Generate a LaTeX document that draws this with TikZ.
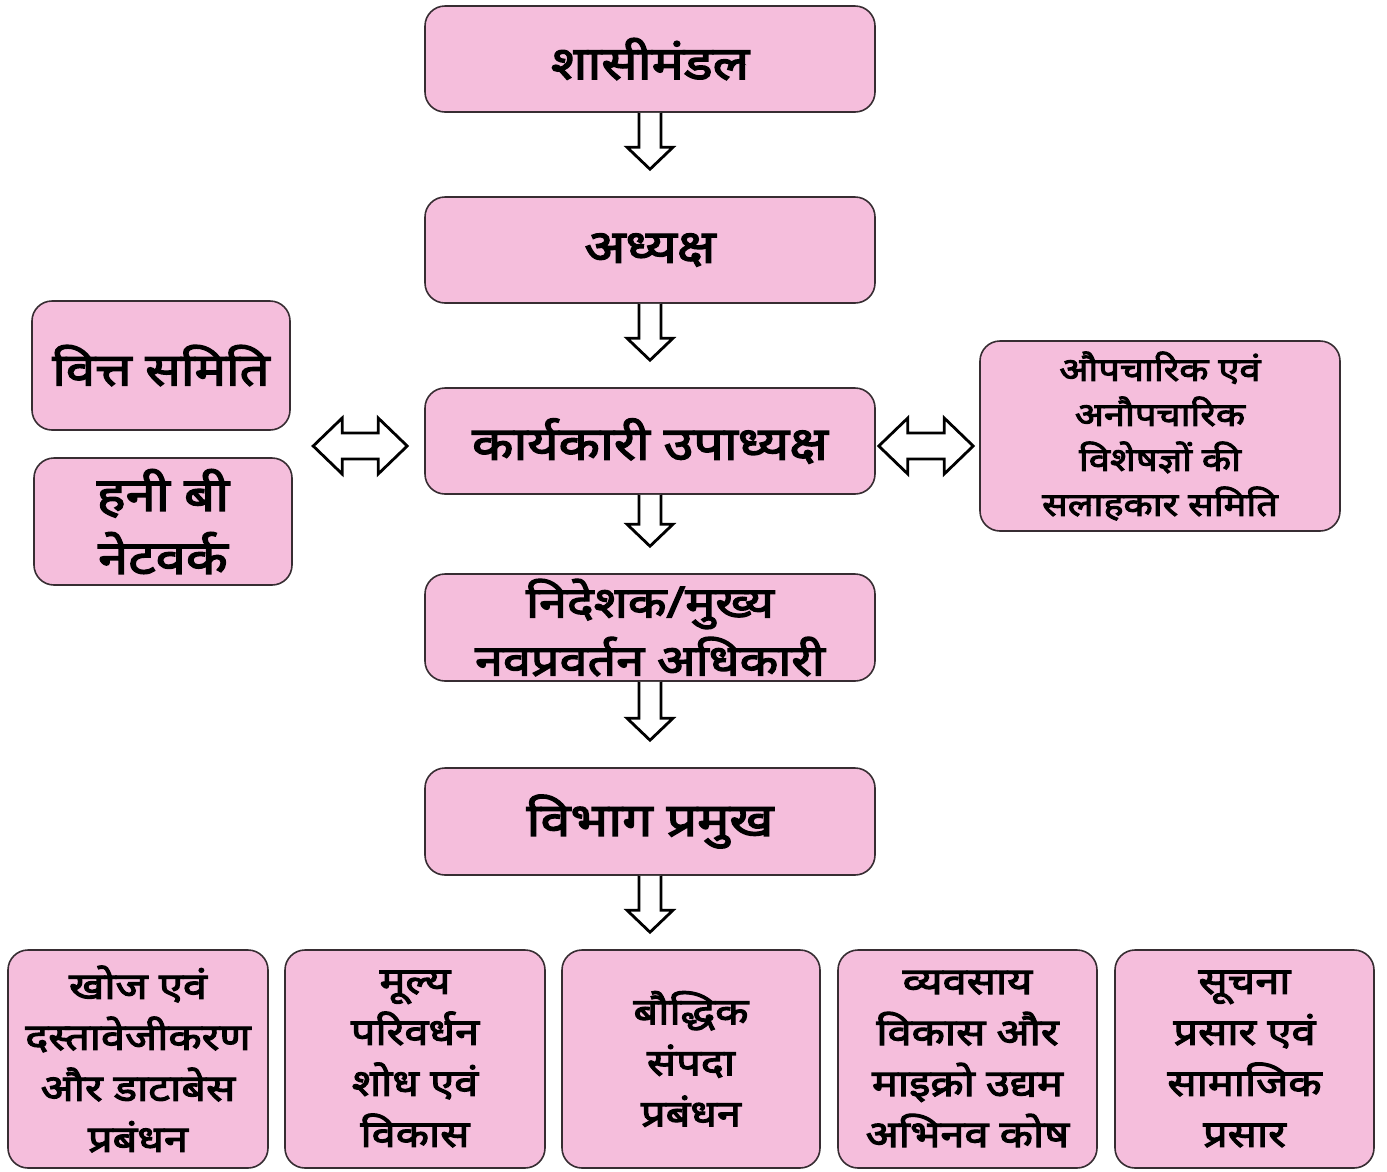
\documentclass[tikz,border=0pt]{standalone}
\usepackage{fontspec}
\newfontfamily\hin[Script=Devanagari, FakeBold=3, FakeStretch=1.17]{Noto Sans}
\usetikzlibrary{calc}
\definecolor{pinkc}{RGB}{245,190,220}
\definecolor{edgec}{RGB}{55,45,50}
\tikzset{
  box/.style={draw=edgec, line width=1.6pt, fill=pinkc, rounded corners=20pt,
    align=center, inner sep=0pt},
  bigf/.style={font=\hin\fontsize{46}{58}\selectfont},
  b4f/.style={font=\hin\fontsize{43}{58}\selectfont},
  lf/.style={font=\hin\fontsize{45}{58}\selectfont},
  lbf/.style={font=\hin\fontsize{46.5}{63}\selectfont},
  midf/.style={font=\hin\fontsize{37}{51}\selectfont},
  smlf/.style={font=\hin\fontsize{32.5}{45}\selectfont},
  fat/.style={draw=black, line width=2.8pt, fill=white, line join=miter},
}
\begin{document}
\begin{tikzpicture}[x=1pt,y=-1pt]
\useasboundingbox (0,0) rectangle (1387,1171);
% main column
\node[box, bigf, minimum width=450pt, minimum height=106pt] (b1) at (650,59) {शासीमंडल};
\node[box, bigf, minimum width=450pt, minimum height=106pt] (b2) at (650,250) {अध्यक्ष};
\node[box, bigf, minimum width=450pt, minimum height=106pt] (b3) at (650,441) {कार्यकारी उपाध्यक्ष};
\node[box, b4f, minimum width=450pt, minimum height=107pt] (b4) at (650,627.5) {निदेशक/मुख्य\\ नवप्रवर्तन अधिकारी};
\node[box, bigf, minimum width=450pt, minimum height=107pt] (b5) at (650,821.5) {विभाग प्रमुख};
% left
\node[box, lf, minimum width=258pt, minimum height=129pt] (l1) at (161,365.5) {वित्त समिति};
\node[box, lbf, minimum width=258pt, minimum height=127pt] (l2) at (163,521.5) {हनी बी\\ नेटवर्क};
% right
\node[box, smlf, minimum width=360pt, minimum height=190pt] (r1) at (1160,436) {औपचारिक एवं\\ अनौपचारिक\\ विशेषज्ञों की\\ सलाहकार समिति};
% bottom
\node[box, midf, minimum width=260pt, minimum height=218pt] (d1) at (138,1059) {खोज एवं\\ दस्तावेजीकरण\\ और डाटाबेस\\ प्रबंधन};
\node[box, midf, minimum width=260pt, minimum height=218pt] (d2) at (415,1059) {मूल्य\\ परिवर्धन\\ शोध एवं\\ विकास};
\node[box, midf, minimum width=258pt, minimum height=218pt] (d3) at (691,1059) {बौद्धिक\\ संपदा\\ प्रबंधन};
\node[box, midf, minimum width=259pt, minimum height=218pt] (d4) at (967.5,1059) {व्यवसाय\\ विकास और\\ माइक्रो उद्यम\\ अभिनव कोष};
\node[box, midf, minimum width=259pt, minimum height=218pt] (d5) at (1244.5,1059) {सूचना\\ प्रसार एवं\\ सामाजिक\\ प्रसार};
% down arrows
\foreach \ua/\ub in {b1/b2,b2/b3,b3/b4,b4/b5} {
  \draw[fat] let \p1=(\ua.south), \p2=(\ub.north) in
    (\x1-11pt,\y1) -- (\x1-11pt,\y2+49pt) -- (\x1-23pt,\y2+49pt) -- (\x1,\y2+27pt)
    -- (\x1+23pt,\y2+49pt) -- (\x1+11pt,\y2+49pt) -- (\x1+11pt,\y1);
}
\coordinate (dtop) at ($(d3.north)+(-43pt,0)$);
\draw[fat] let \p1=(b5.south), \p2=(dtop) in
    (\x1-11pt,\y1) -- (\x1-11pt,\y2+39pt) -- (\x1-23pt,\y2+39pt) -- (\x1,\y2+17pt)
    -- (\x1+23pt,\y2+39pt) -- (\x1+11pt,\y2+39pt) -- (\x1+11pt,\y1);
% double arrows
\coordinate (la) at ($(b3.west)+(-111pt,-5pt)$);
\coordinate (lb) at ($(b3.west)+(-17pt,-5pt)$);
\coordinate (ra) at ($(b3.east)+(3pt,-5pt)$);
\coordinate (rb) at ($(r1.west)+(-6pt,0)$);
\foreach \ua/\ub in {la/lb,ra/rb} {
  \draw[fat] let \p1=(\ua), \p2=(\ub) in
    (\x1,\y1) -- (\x1+29pt,\y1-28pt) -- (\x1+29pt,\y1-13pt) -- (\x2-29pt,\y1-13pt)
    -- (\x2-29pt,\y1-28pt) -- (\x2,\y1) -- (\x2-29pt,\y1+28pt) -- (\x2-29pt,\y1+13pt)
    -- (\x1+29pt,\y1+13pt) -- (\x1+29pt,\y1+28pt) -- cycle;
}
\end{tikzpicture}
\end{document}
